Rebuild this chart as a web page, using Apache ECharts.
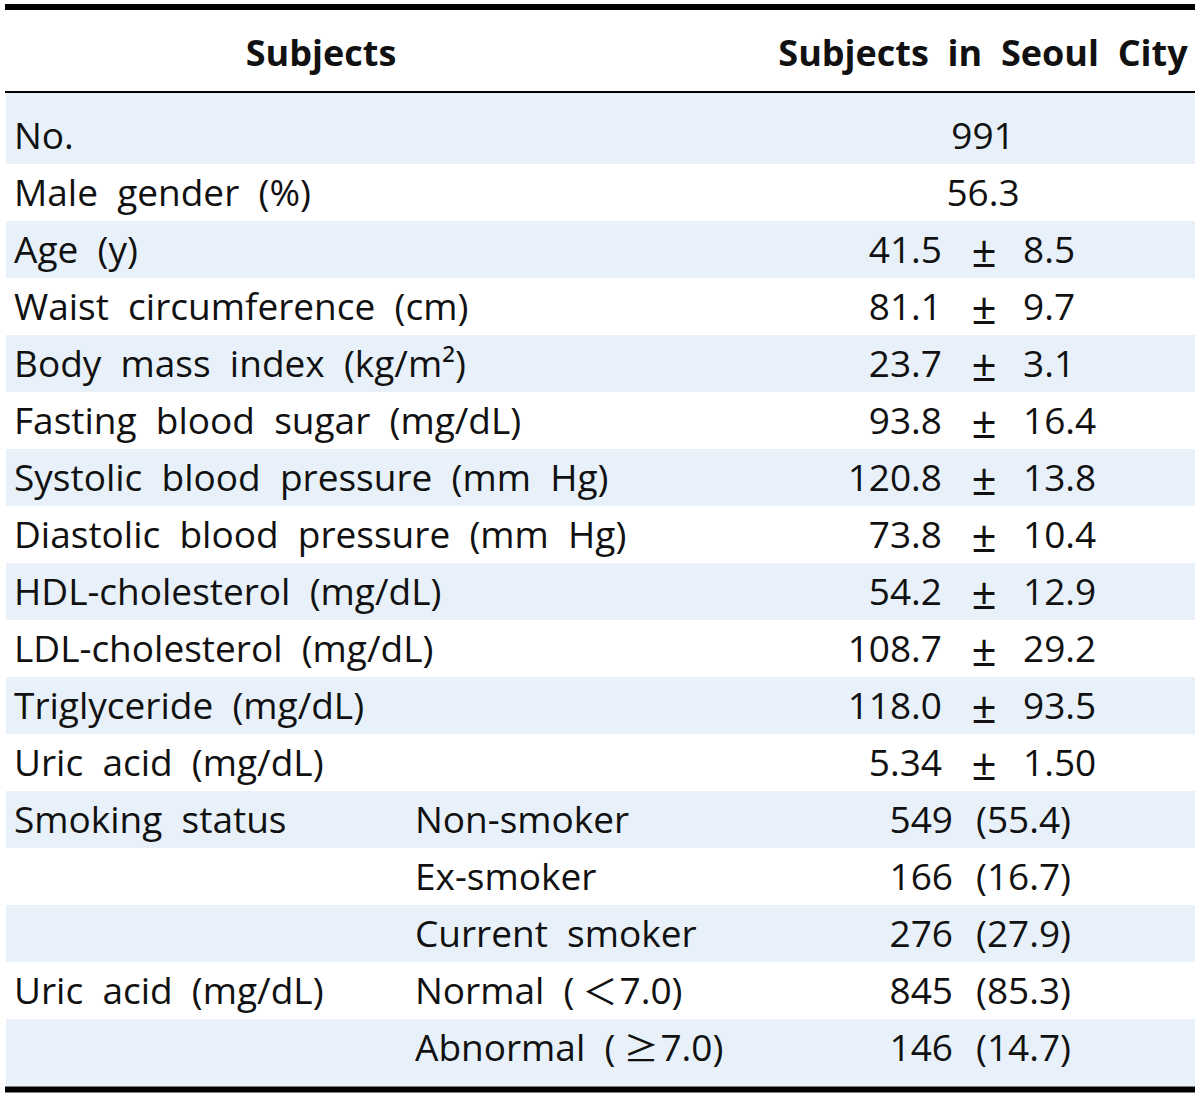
<!DOCTYPE html>
<html>
<head>
<meta charset="utf-8">
<script src="https://cdn.jsdelivr.net/npm/echarts@6/dist/echarts.min.js"></script>
<style>
html,body{margin:0;padding:0;background:#fff;}
#chart{width:1200px;height:1099px;}
</style>
</head>
<body>
<div id="chart"></div>
<script>
// ---- data ----
const headers = ['Subjects', 'Subjects  in  Seoul  City'];
const rowLabels = ['No.', 'Male  gender  (%)', 'Age  (y)', 'Waist  circumference  (cm)',
  'Body  mass  index  (kg/m\u00B2)', 'Fasting  blood  sugar  (mg/dL)',
  'Systolic  blood  pressure  (mm  Hg)', 'Diastolic  blood  pressure  (mm  Hg)',
  'HDL-cholesterol  (mg/dL)', 'LDL-cholesterol  (mg/dL)', 'Triglyceride  (mg/dL)',
  'Uric  acid  (mg/dL)', 'Smoking  status', '', '', 'Uric  acid  (mg/dL)', ''];
const subLabels = ['', '', '', '', '', '', '', '', '', '', '', '',
  'Non-smoker', 'Ex-smoker', 'Current  smoker', 'Normal  ({cjk|\uFF1C}7.0)', 'Abnormal  ({cjk|\u2265}7.0)'];
const singleValues = ['991', '56.3'];
const means = ['41.5', '81.1', '23.7', '93.8', '120.8', '73.8', '54.2', '108.7', '118.0', '5.34'];
const sds = ['8.5', '9.7', '3.1', '16.4', '13.8', '10.4', '12.9', '29.2', '93.5', '1.50'];
const counts = ['549', '166', '276', '845', '146'];
const percents = ['55.4', '16.7', '27.9', '85.3', '14.7'];

// ---- build ----
const nRows = rowLabels.length;
const rowIdx = rowLabels.map((_, i) => i);
const FONT = '"Open Sans", "Noto Sans", sans-serif';
const FS = 37;
const TXT = '#111';

function valueParts(i) {
  if (i < singleValues.length) return {type: 'single', v: singleValues[i]};
  const m = i - singleValues.length;
  if (m < means.length) return {type: 'msd', m: means[m], s: sds[m]};
  const c = m - means.length;
  return {type: 'np', n: counts[c], p: percents[c]};
}

function txt(x, y, text, align, size) {
  return {type: 'text', x: x, y: y, style: {
    text: text, fill: TXT, fontFamily: FONT, fontSize: size || FS, fontWeight: 'normal',
    align: align, verticalAlign: 'middle',
    rich: {cjk: {fontFamily: '"Noto Sans CJK JP"', fontSize: FS - 2, fill: TXT, padding: [0, 2, 0, 8]}}
  }};
}

const chart = echarts.init(document.getElementById('chart'), null, {renderer: 'svg'});
chart.setOption({
  animation: false,
  backgroundColor: '#fff',
  grid: {left: 0, right: 0, top: 107, bottom: 23},
  xAxis: {type: 'value', min: 0, max: 1200, show: false},
  yAxis: {type: 'category', data: rowIdx, inverse: true, show: false},
  graphic: [
    {type: 'line', shape: {x1: 5, y1: 7, x2: 1195, y2: 7}, style: {stroke: '#000', lineWidth: 6}},
    {type: 'line', shape: {x1: 5, y1: 92, x2: 1195, y2: 92}, style: {stroke: '#000', lineWidth: 2}},
    {type: 'line', shape: {x1: 5, y1: 1089.5, x2: 1195, y2: 1089.5}, style: {stroke: '#000', lineWidth: 6}},
    {type: 'text', x: 321, y: 52, style: {text: headers[0], fill: TXT, fontFamily: FONT, fontSize: FS - 1, fontWeight: 'bold', align: 'center', verticalAlign: 'middle'}},
    {type: 'text', x: 983, y: 52, style: {text: headers[1], fill: TXT, fontFamily: FONT, fontSize: FS - 1, fontWeight: 'bold', align: 'center', verticalAlign: 'middle'}}
  ],
  series: [{
    type: 'custom',
    coordinateSystem: 'cartesian2d',
    data: rowIdx.map(i => [0, i]),
    renderItem: function (params, api) {
      const i = api.value(1);
      const c = api.coord([0, i]);
      const h = api.size([0, 1])[1];
      const yc = c[1];
      const ty = yc - 1;
      const X = v => api.coord([v, i])[0];
      const children = [];
      if (i % 2 === 0) {
        let top = yc - h / 2, bot = yc + h / 2;
        if (i === 0) top -= 14;
        if (i === nRows - 1) bot += 10;
        children.push({type: 'rect', shape: {x: X(6), y: top, width: X(1195) - X(6), height: bot - top}, style: {fill: '#E8F1F9'}});
      }
      children.push(txt(X(14), ty, rowLabels[i], 'left'));
      if (subLabels[i]) children.push(txt(X(415), ty, subLabels[i], 'left'));
      const v = valueParts(i);
      if (v.type === 'single') {
        children.push(txt(X(983), ty, v.v, 'center'));
      } else if (v.type === 'msd') {
        children.push(txt(X(942), ty, v.m, 'right'));
        children.push(txt(X(984), ty + 1, '\u00B1', 'center', FS + 7));
        children.push(txt(X(1023), ty, v.s, 'left'));
      } else {
        children.push(txt(X(953), ty, v.n, 'right'));
        children.push(txt(X(976), ty, '(' + v.p + ')', 'left'));
      }
      return {type: 'group', children: children};
    }
  }]
});
</script>
</body>
</html>
